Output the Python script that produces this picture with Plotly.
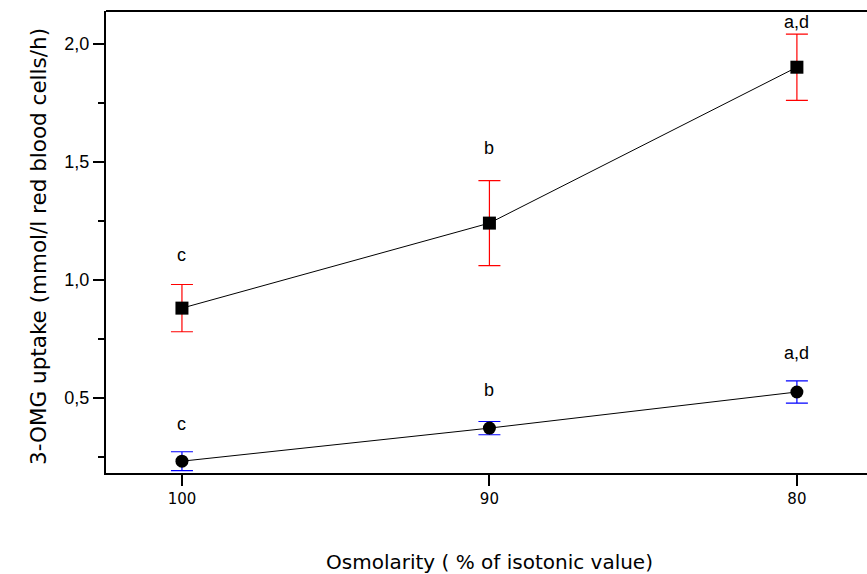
import plotly.graph_objects as go

# Osmolarity levels (% of isotonic value)
osmolarity = [100, 90, 80]

# Upper series (squares) with SD
square_vals = [0.88, 1.24, 1.90]
square_err = [0.10, 0.18, 0.14]
square_tags = ["c", "b", "a,d"]
square_tag_y = [1.106, 1.558, 2.09]

# Lower series (circles) with SD
circle_vals = [0.232, 0.372, 0.525]
circle_err = [0.040, 0.028, 0.047]
circle_tags = ["c", "b", "a,d"]
circle_tag_y = [0.39, 0.534, 0.69]

y_tickvals = [0.5, 1.0, 1.5, 2.0]
y_ticktext = ["0,5", "1,0", "1,5", "2,0"]
x_ticktext = ["100", "90", "80"]

fig = go.Figure()

fig.add_trace(go.Scatter(
    x=osmolarity, y=square_vals, mode="lines+markers",
    line=dict(color="black", width=1),
    marker=dict(symbol="square", size=13, color="black"),
    error_y=dict(type="data", array=square_err, color="#ff0000", thickness=1.2, width=11),
    showlegend=False,
))
fig.add_trace(go.Scatter(
    x=osmolarity, y=circle_vals, mode="lines+markers",
    line=dict(color="black", width=1),
    marker=dict(symbol="circle", size=13, color="black"),
    error_y=dict(type="data", array=circle_err, color="#0000ff", thickness=1.2, width=11),
    showlegend=False,
))

tag_font = dict(family="Liberation Sans, Arial", size=18, color="black")
annotations = []
for x, ty, t in zip(osmolarity, square_tag_y, square_tags):
    annotations.append(dict(x=x, y=ty, text=t, showarrow=False,
                            xanchor="center", yanchor="middle", font=tag_font))
for x, ty, t in zip(osmolarity, circle_tag_y, circle_tags):
    annotations.append(dict(x=x, y=ty, text=t, showarrow=False,
                            xanchor="center", yanchor="middle", font=tag_font))

annotations.append(dict(xref="paper", yref="paper", x=(490 - 106) / 761, y=-89 / 462,
                        xanchor="center", yanchor="middle",
                        text="Osmolarity ( % of isotonic value)", showarrow=False,
                        font=dict(family="DejaVu Sans", size=20, color="black")))
annotations.append(dict(xref="paper", yref="paper", x=-68 / 761, y=(473 - 247) / 462,
                        xanchor="center", yanchor="middle",
                        text="3-OMG uptake (mmol/l red blood cells/h)", showarrow=False,
                        textangle=-90,
                        font=dict(family="DejaVu Sans", size=21.5, color="black")))

fig.update_layout(
    width=867, height=574,
    margin=dict(l=106, r=0, t=11, b=101),
    paper_bgcolor="white", plot_bgcolor="white",
    annotations=annotations,
    shapes=[dict(type="line", xref="paper", yref="paper", x0=0, x1=1, y0=1, y1=1,
                 line=dict(color="black", width=2))],
)

fig.update_xaxes(
    range=[102.47, 77.72],
    tickvals=osmolarity, ticktext=x_ticktext,
    ticks="outside", ticklen=11, tickwidth=2, tickcolor="black",
    showline=True, linecolor="black", linewidth=2,
    showgrid=False, zeroline=False,
    tickfont=dict(family="DejaVu Sans", size=15, color="black"),
)
fig.update_yaxes(
    range=[0.182, 2.138],
    tickvals=y_tickvals, ticktext=y_ticktext,
    ticks="outside", ticklen=11, tickwidth=2, tickcolor="black",
    minor=dict(dtick=0.25, tick0=0, ticks="outside", ticklen=6, tickwidth=2, tickcolor="black"),
    showline=True, linecolor="black", linewidth=2,
    showgrid=False, zeroline=False,
    tickfont=dict(family="Liberation Sans, Arial", size=18, color="black"),
)

fig.write_html("out.html")
